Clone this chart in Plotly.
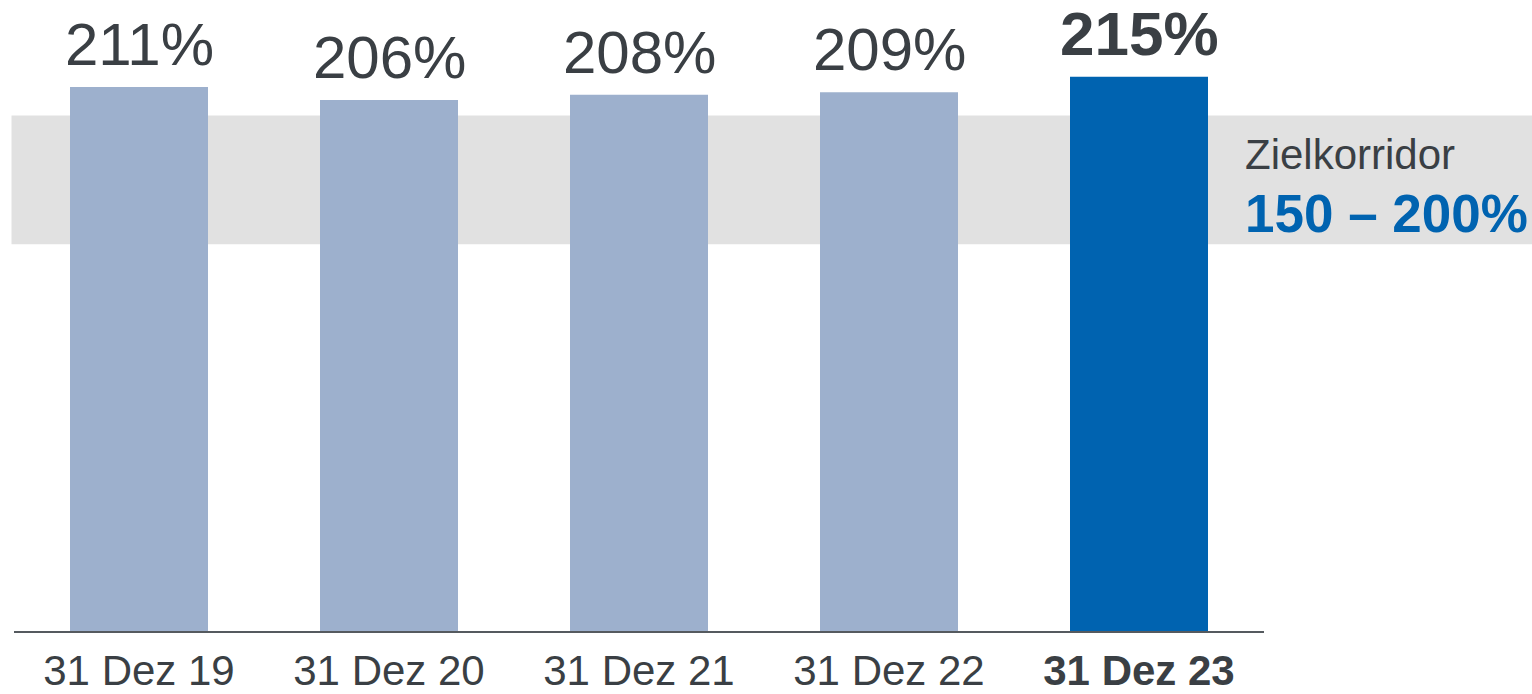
import plotly.graph_objects as go

# data
dates = ["31 Dez 19", "31 Dez 20", "31 Dez 21", "31 Dez 22", "31 Dez 23"]
ratios = [211, 206, 208, 209, 215]
band_low = 150
band_high = 200

light = "#9db0cd"
blue = "#0063b0"
textcol = "#3a3f44"

colors = [light] * (len(dates) - 1) + [blue]
ticks = dates[:-1] + [f"<b>{dates[-1]}</b>"]

fig = go.Figure()

fig.add_trace(go.Bar(
    x=dates, y=ratios,
    marker_color=colors, marker_line_width=0,
    width=0.552, hoverinfo="skip",
))

# value labels above bars
for i, (d, v) in enumerate(zip(dates, ratios)):
    last = i == len(dates) - 1
    fig.add_annotation(x=d, y=v, text=f"<b>{v}%</b>" if last else f"{v}%",
                       showarrow=False, yanchor="bottom", yshift=7,
                       font=dict(size=62 if last else 60, color=textcol))

# target band, drawn across whole width
fig.add_shape(type="rect", xref="paper", yref="y",
              x0=-0.002, x1=1.22, y0=band_low, y1=band_high,
              fillcolor="#e1e1e1", line_width=0, layer="below")

fig.add_annotation(xref="paper", yref="y", x=0.983, y=185,
                   text="Zielkorridor", showarrow=False,
                   xanchor="left", yanchor="middle",
                   font=dict(size=42, color=textcol))
fig.add_annotation(xref="paper", yref="y", x=0.983, y=162,
                   text=f"<b>{band_low} – {band_high}%</b>", showarrow=False,
                   xanchor="left", yanchor="middle",
                   font=dict(size=53, color=blue))

fig.update_layout(
    width=1532, height=694,
    margin=dict(l=14, r=268, t=0, b=63),
    plot_bgcolor="white", paper_bgcolor="white",
    font=dict(family="Arial, Liberation Sans, sans-serif", color=textcol),
    showlegend=False,
)
fig.update_xaxes(tickvals=dates, ticktext=ticks, tickfont=dict(size=42, color=textcol),
                 showline=True, linecolor="#555a5f", linewidth=2, ticklabelstandoff=2,
                 ticks="", showgrid=False, automargin=False)
fig.update_yaxes(range=[0, 244.8], visible=False, showgrid=False, automargin=False)

fig.write_html("out.html", config={"displayModeBar": False},
               post_script="document.body.style.margin='0';")
